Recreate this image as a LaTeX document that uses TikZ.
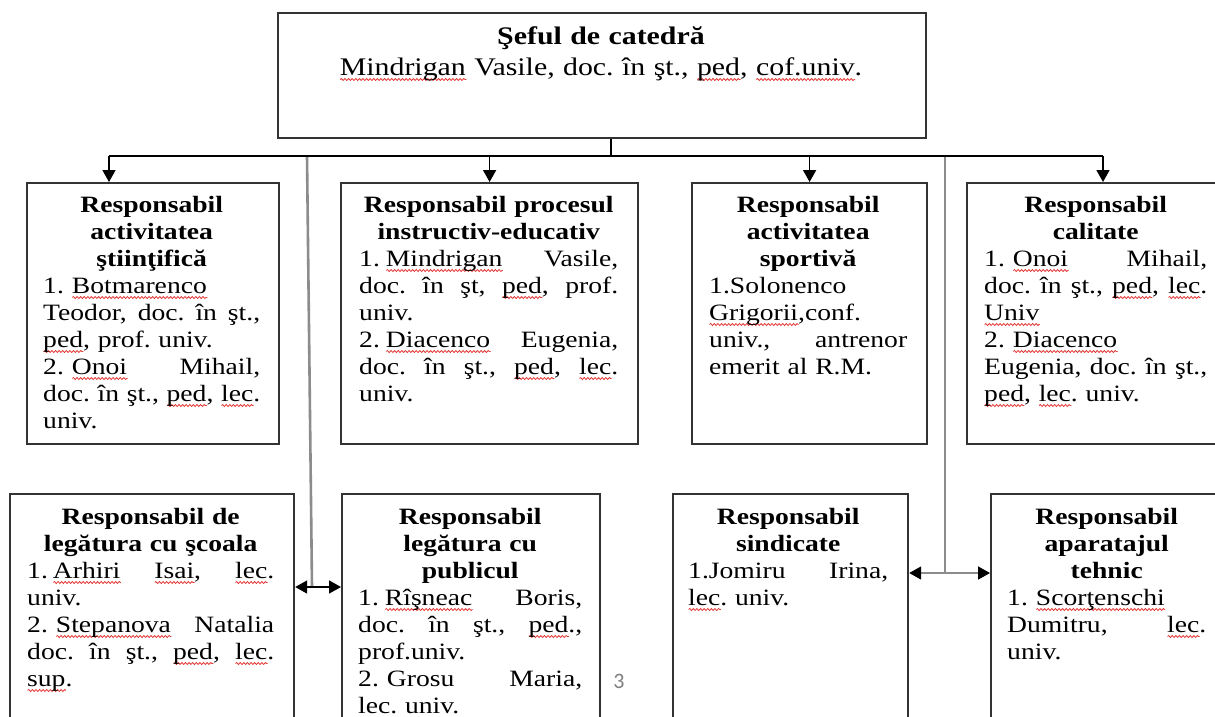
\documentclass[tikz,border=0pt]{standalone}
\usepackage{fontspec}
\setmainfont{Liberation Serif}[FakeStretch=1.18]
\newfontfamily\pgnum{Carlito}
\usetikzlibrary{arrows.meta,decorations.pathmorphing}
\definecolor{spell}{HTML}{E53935}
\definecolor{frame}{HTML}{333333}
\definecolor{vline}{HTML}{8C8C8C}
\newsavebox\sqbox
\newcommand\sq[1]{\leavevmode\sbox\sqbox{#1}\rlap{\tikz[baseline=0pt]\draw[spell,line width=0.8pt,decorate,decoration={snake,amplitude=1pt,segment length=3.6pt}] (0pt,-4.5pt) -- (\wd\sqbox,-4.5pt);}\usebox\sqbox}
\newcommand\jl[1]{\leavevmode\makebox[\linewidth][s]{\spaceskip=\fontdimen2\font plus 1fil\relax #1}}
\newcommand\hd[1]{\leavevmode\makebox[\linewidth][c]{\bfseries #1}}
\tikzset{
  box/.style={draw=frame, line width=2.2pt, inner sep=0pt, anchor=north west},
  txt/.style={inner sep=0pt, anchor=base west, align=left, text=black,
    font=\fontsize{23.4}{27}\selectfont\frenchspacing},
  conn/.style={draw=black, line width=1.6pt},
  arr/.style={conn, -{Triangle[length=12pt,width=13pt]}},
  gline/.style={draw=vline, line width=2.6pt},
  darr/.style={line width=1.6pt, {Triangle[length=12pt,width=13pt,color=black]}-{Triangle[length=12pt,width=13pt,color=black]}}
}
\begin{document}
\begin{tikzpicture}[x=1pt,y=-1pt]
\useasboundingbox (0,0) rectangle (1215,716);
\clip (0,0) rectangle (1215,716);
\fill[white] (0,0) rectangle (1215,716);

% boxes
\node[box, minimum width=648pt, minimum height=125pt] (top) at (277,12) {};
\node[box, minimum width=252pt, minimum height=261pt] (b1) at (26,182) {};
\node[box, minimum width=297pt, minimum height=261pt] (b2) at (340,182) {};
\node[box, minimum width=235pt, minimum height=261pt] (b3) at (691,182) {};
\node[box, minimum width=280pt, minimum height=261pt] (b4) at (966,182) {};
\node[box, minimum width=284pt, minimum height=260pt] (b5) at (9,493) {};
\node[box, minimum width=258pt, minimum height=260pt] (b6) at (341,493) {};
\node[box, minimum width=235pt, minimum height=260pt] (b7) at (672,493) {};
\node[box, minimum width=260pt, minimum height=260pt] (b8) at (990,493) {};

% top text
\node[inner sep=0pt, anchor=base, align=center, text width=620pt,
  font=\fontsize{25.3}{31}\selectfont\frenchspacing] (tt) at (601,44)
  {\textbf{Şeful de catedră}\\ \sq{Mindrigan} Vasile, doc. în şt., \sq{ped}, \sq{cof.univ}.};

% row 1 texts
\node[txt, text width=217pt] (t1) at (43,212) {%
\hd{Responsabil}\\
\hd{activitatea}\\
\hd{ştiinţifică}\\
1.\hspace{8pt}\sq{Botmarenco}\\
\jl{Teodor, doc. în şt.,}\\
\sq{ped}, prof. univ.\\
\jl{2.\hspace{8pt}\sq{Onoi} Mihail,}\\
\jl{doc. în şt., \sq{ped}, \sq{lec}.}\\
univ.};

\node[txt, text width=259pt] (t2) at (359,212) {%
\hd{Responsabil procesul}\\
\hd{instructiv-educativ}\\
\jl{1.\hspace{6pt}\sq{Mindrigan} Vasile,}\\
\jl{doc. în şt, \sq{ped}, prof.}\\
univ.\\
\jl{2.\hspace{6pt}\sq{Diacenco} Eugenia,}\\
\jl{doc. în şt., \sq{ped}, \sq{lec}.}\\
univ.};

\node[txt, text width=198pt] (t3) at (709,212) {%
\hd{Responsabil}\\
\hd{activitatea}\\
\hd{sportivă}\\
1.Solonenco\\
\sq{Grigorii},conf.\\
\jl{univ., antrenor}\\
emerit al R.M.};

\node[txt, text width=223pt] (t4) at (984,212) {%
\hd{Responsabil}\\
\hd{calitate}\\
\jl{1.\hspace{8pt}\sq{Onoi} Mihail,}\\
\jl{doc. în şt., \sq{ped}, \sq{lec}.}\\
\sq{Univ}\\
2.\hspace{8pt}\sq{Diacenco}\\
\jl{Eugenia, doc. în şt.,}\\
\sq{ped}, \sq{lec}. univ.};

% row 2 texts
\node[txt, text width=247pt] (t5) at (27,524) {%
\hd{Responsabil de}\\
\hd{legătura cu şcoala}\\
\jl{1.\hspace{5pt}\sq{Arhiri} \sq{Isai}, \sq{lec}.}\\
univ.\\
\jl{2.\hspace{8pt}\sq{Stepanova} Natalia}\\
\jl{doc. în şt., \sq{ped}, \sq{lec}.}\\
\sq{sup}.};

\node[txt, text width=224pt] (t6) at (358,524) {%
\hd{Responsabil}\\
\hd{legătura cu}\\
\hd{publicul}\\
\jl{1.\hspace{6pt}\sq{Rîşneac} Boris,}\\
\jl{doc. în şt., \sq{ped}.,}\\
prof.univ.\\
\jl{2.\hspace{8pt}Grosu Maria,}\\
lec. univ.};

\node[txt, text width=200pt] (t7) at (688,524) {%
\hd{Responsabil}\\
\hd{sindicate}\\
\jl{1.Jomiru Irina,}\\
\sq{lec}. univ.};

\node[txt, text width=199pt] (t8) at (1007,524) {%
\hd{Responsabil}\\
\hd{aparatajul}\\
\hd{tehnic}\\
1.\hspace{8pt}\sq{Scorţenschi}\\
\jl{Dumitru, \sq{lec}.}\\
univ.};

% connectors
\coordinate (jL) at (109,156);
\coordinate (jR) at (1103,156);
\coordinate (stem) at (611,156);
\coordinate (gL) at (307,156);
\coordinate (dL) at (312,587);
\coordinate (gR) at (945,156);
\coordinate (dR) at (945,573);

\draw[gline] (gL) -- (dL);
\draw[gline] (gR) -- (dR);
\draw[conn] (stem |- top.south) -- (stem);
\draw[conn] (jL) -- (jR);
\draw[arr] (jL) -- (jL |- b1.north);
\draw[arr] (b2.north |- jL) -- (b2.north);
\draw[arr] (b3.north |- jL) -- (b3.north);
\draw[arr] (jR) -- (jR |- b4.north);
\draw[darr, draw=black] (b5.east |- dL) -- (b6.west |- dL);
\draw[darr, draw=vline] (b7.east |- dR) -- (b8.west |- dR);

% page number
\node[inner sep=0pt, text=gray, font=\pgnum\fontsize{22}{22}\selectfont] (pg) at (619,681) {3};
\end{tikzpicture}
\end{document}
